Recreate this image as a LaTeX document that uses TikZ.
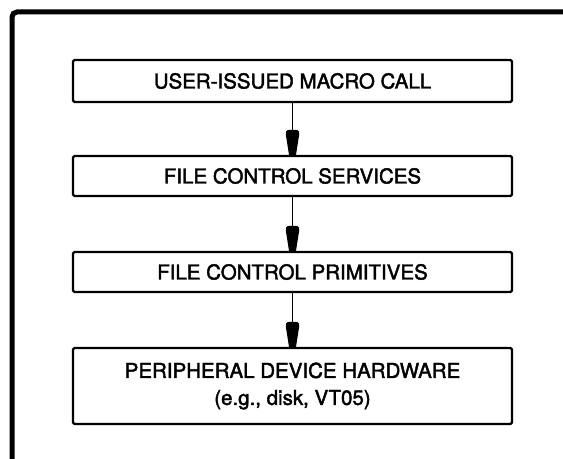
\documentclass[tikz,border=0pt]{standalone}
\usepackage{fontspec}
\setmainfont{TeX Gyre Heros}
\newfontfamily\lblfont{TeX Gyre Heros}[FakeBold=2]
\begin{document}
\begin{tikzpicture}[x=1bp,y=1bp,
  blk/.style={draw=black, line width=2.4bp, fill=white, minimum width=439bp, inner sep=0pt,
    align=center, font=\lblfont\fontsize{20.5bp}{26bp}\selectfont, rounded corners=1.5bp},
  conn/.style={line width=1.5bp},
  headfill/.style={fill=black}]
\useasboundingbox (0,0) rectangle (563,459);
\fill[white] (0,0) rectangle (563,459);
\begin{scope}
\clip (0,0) rectangle (563,459);
\draw[line width=5bp, rounded corners=5bp] (12,-20) -- (12,447) -- (600,447);
\end{scope}
\node[blk, minimum height=42bp] (b1) at (292.5,378) {USER-ISSUED MACRO CALL};
\node[blk, minimum height=40bp] (b2) at (292.5,283) {FILE CONTROL SERVICES};
\node[blk, minimum height=40bp] (b3) at (292.5,187) {FILE CONTROL PRIMITIVES};
\node[blk, minimum height=76bp] (b4) at (292.5,73) {PERIPHERAL DEVICE HARDWARE\\[1bp](e.g., disk, VT05)};
\foreach \a/\b in {b1/b2, b2/b3, b3/b4}{
  \draw[conn] (\a.south) -- (\b.north);
  \begin{scope}[shift={(\b.north)}]
  \fill[headfill] (-3.5,0) -- (-6.5,19) .. controls (-7.2,22.5) and (-6.5,25) .. (-3,25)
     -- (3,25) .. controls (6.5,25) and (7.2,22.5) .. (6.5,19) -- (3.5,0) -- cycle;
  \end{scope}
}
\end{tikzpicture}
\end{document}
